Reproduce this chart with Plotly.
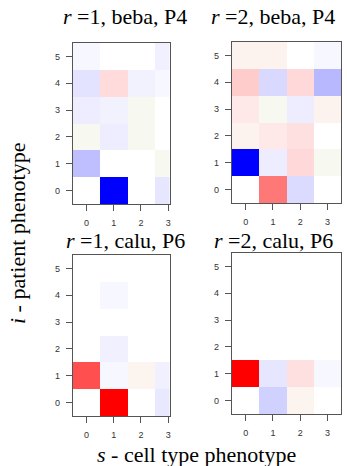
import plotly.graph_objects as go

# phenotype indices
cell_types = [0, 1, 2, 3]          # s
patient_types = [0, 1, 2, 3, 4, 5]  # i

panel_titles = [
    "<i>r</i> =1, beba, P4",
    "<i>r</i> =2, beba, P4",
    "<i>r</i> =1, calu, P6",
    "<i>r</i> =2, calu, P6",
]

# rows: i = 0..5, columns: s = 0..3
r1_beba = [
    [0.00, -1.00, 0.00, -0.10],
    [-0.25, 0.00, 0.00, 0.02],
    [0.02, -0.07, 0.02, 0.00],
    [-0.07, -0.05, 0.02, 0.00],
    [-0.11, 0.14, -0.05, -0.03],
    [-0.03, 0.00, 0.00, -0.06],
]
r2_beba = [
    [0.00, 0.53, -0.14, 0.00],
    [-1.00, -0.07, 0.15, 0.02],
    [0.05, 0.09, 0.12, 0.00],
    [0.09, 0.02, -0.07, 0.05],
    [0.20, -0.15, 0.15, -0.28],
    [0.05, 0.05, 0.00, -0.03],
]
r1_calu = [
    [0.00, 1.00, 0.00, -0.09],
    [0.69, -0.03, 0.045, -0.06],
    [0.00, -0.06, 0.00, 0.00],
    [0.00, 0.00, 0.00, 0.00],
    [0.00, -0.03, 0.00, 0.00],
    [0.00, 0.00, 0.00, 0.00],
]
r2_calu = [
    [0.00, -0.18, 0.045, 0.00],
    [1.00, -0.10, 0.12, -0.03],
    [0.00, 0.00, 0.00, 0.00],
    [0.00, 0.00, 0.00, 0.00],
    [0.00, 0.00, 0.00, 0.00],
    [0.00, 0.00, 0.00, 0.00],
]

W, H = 347, 466

# diverging blue-white-red map with a faint warm tint just above zero
cscale = [
    [0.0, "#0000ff"],
    [0.5, "#ffffff"],
    [0.51, "#f7f8ef"],
    [0.525, "#fdf3ee"],
    [0.545, "#ffe8e8"],
    [1.0, "#ff0000"],
]

# panel boxes in pixels: (left, right, top, bottom, x upper limit)
boxes = [
    (73, 169.5, 43, 204, 3.05),
    (232, 341, 42, 203, 3.5),
    (73, 169.5, 255, 416, 3.05),
    (232, 341, 253, 414, 3.5),
]
panels = [r1_beba, r2_beba, r1_calu, r2_calu]

fig = go.Figure()
layout = dict(
    width=W, height=H,
    margin=dict(l=0, r=0, t=0, b=0),
    paper_bgcolor="white", plot_bgcolor="white",
    showlegend=False,
    annotations=[],
)

tick_font = dict(family="Liberation Sans, Arial, sans-serif", size=9, color="#333333")
title_font = dict(family="Liberation Serif, Times New Roman, serif", size=22, color="black")

for k, (z, (x0, x1, y0, y1, xmax)) in enumerate(zip(panels, boxes)):
    n = "" if k == 0 else str(k + 1)
    fig.add_trace(go.Heatmap(
        x=cell_types, y=patient_types, z=z,
        zmin=-1, zmax=1, colorscale=cscale, showscale=False,
        xaxis="x" + n, yaxis="y" + n, hoverinfo="skip",
    ))
    axis_common = dict(
        showline=True, linecolor="#555555", linewidth=1.2, mirror=True,
        ticks="outside", ticklen=6, tickcolor="#555555", tickwidth=1,
        showgrid=False, zeroline=False, tickfont=tick_font,
        ticklabelstandoff=4,
    )
    layout["xaxis" + n] = dict(
        axis_common, domain=[x0 / W, x1 / W], anchor="y" + n,
        range=[-0.5, xmax], tickvals=cell_types,
    )
    layout["yaxis" + n] = dict(
        axis_common, domain=[1 - y1 / H, 1 - y0 / H], anchor="x" + n,
        range=[-0.5, 5.5], tickvals=patient_types,
    )

# panel titles
title_pos = [(125, 16), (273, 16), (125, 240), (273, 240)]
for text, (tx, ty) in zip(panel_titles, title_pos):
    layout["annotations"].append(dict(
        text=text, x=tx / W, y=1 - ty / H, xref="paper", yref="paper",
        showarrow=False, xanchor="center", yanchor="middle", font=title_font,
    ))

# shared axis titles
layout["annotations"].append(dict(
    text="<i>s</i> - cell type phenotype", x=196 / W, y=1 - 454 / H,
    xref="paper", yref="paper", showarrow=False,
    xanchor="center", yanchor="middle", font=title_font,
))
layout["annotations"].append(dict(
    text="<i>i</i> - patient phenotype", x=17 / W, y=1 - 234 / H,
    xref="paper", yref="paper", showarrow=False, textangle=-90,
    xanchor="center", yanchor="middle", font=title_font,
))

fig.update_layout(**layout)
fig.write_html("out.html")
